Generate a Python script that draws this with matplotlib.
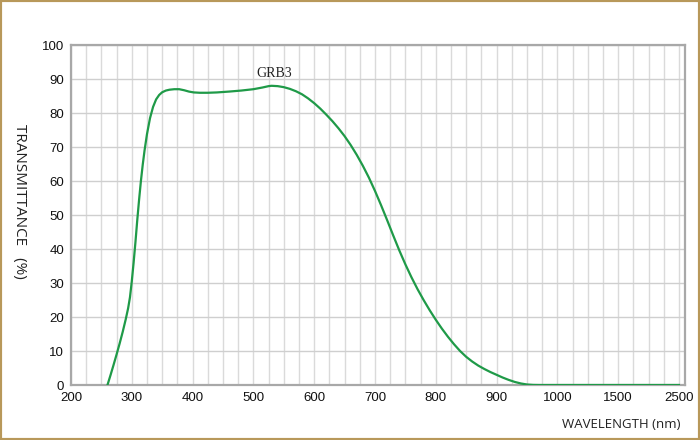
import matplotlib
matplotlib.use("Agg")
import matplotlib.pyplot as plt
from matplotlib.patches import Rectangle
import numpy as np

# Data (wavelength nm, transmittance %)
wavelength = [260, 265, 270, 275, 280, 285, 290, 294, 297, 300, 303, 306, 309, 312,
              315, 318, 321, 325, 330, 335, 340, 345, 350, 356, 362, 370, 378, 386,
              394, 402, 412, 425, 440, 460, 480, 500, 515, 525, 530, 540, 550, 560,
              570, 580, 590, 600, 610, 620, 630, 640, 650, 660, 670, 680, 690, 700,
              710, 720, 730, 740, 750, 760, 770, 780, 790, 800, 810, 820, 830, 840,
              850, 860, 870, 880, 890, 900, 910, 920, 930, 940, 950, 960, 970, 1000,
              1500, 2500]
transmittance = [0, 2.9, 5.9, 9.0, 12.2, 15.6, 19.3, 22.6, 25.8, 30.5, 36, 42, 48.5, 54.5,
                 60, 64.8, 69, 73.8, 78.5, 81.8, 84.0, 85.3, 86.1, 86.6, 86.85, 87.0, 87.0, 86.7,
                 86.3, 86.05, 85.95, 85.95, 86.05, 86.3, 86.6, 87.0, 87.5, 87.9, 88.0, 87.9, 87.6, 87.1,
                 86.4, 85.5, 84.3, 82.9, 81.3, 79.5, 77.6, 75.5, 73.2, 70.6, 67.7, 64.5, 61.0, 57.1,
                 52.9, 48.5, 44.0, 39.6, 35.5, 31.7, 28.2, 25.0, 22.0, 19.2, 16.6, 14.2, 12.0, 10.0,
                 8.3, 6.9, 5.7, 4.7, 3.8, 3.0, 2.2, 1.5, 0.9, 0.45, 0.15, 0.03, 0, 0,
                 0, 0]
x_ticks_nm = [200, 300, 400, 500, 600, 700, 800, 900, 1000, 1500, 2500]
y_ticks = [0, 10, 20, 30, 40, 50, 60, 70, 80, 90, 100]
series_label = "GRB3"

# piecewise axis: linear 200-1000, then compressed segments
def to_u(x):
    x = np.asarray(x, dtype=float)
    return np.interp(x, x_ticks_nm, np.arange(len(x_ticks_nm)))

fig = plt.figure(figsize=(7, 4.4), dpi=100)
ax = fig.add_axes([71/700, 1-385/440, (685-71)/700, (385-45)/440])

ax.set_xlim(0, 10.1)
ax.set_ylim(0, 100)

# grid
for u in np.arange(0, 10.1, 0.25):
    ax.axvline(u, color="#dadada", lw=1.0, zorder=0)
for y in y_ticks:
    ax.axhline(y, color="#cfcfcf", lw=1.0, zorder=0)

ax.plot(to_u(wavelength), transmittance, color="#1f9a48", lw=1.6, zorder=3,
        solid_joinstyle="round")
ax.text(to_u(535), 89.6, series_label, family="Liberation Serif", fontsize=10,
        ha="center", va="bottom", color="#222222")

ax.set_xticks(to_u(x_ticks_nm))
ax.set_xticklabels([str(v) for v in x_ticks_nm])
ax.set_yticks(y_ticks)
ax.set_yticklabels([str(v) for v in y_ticks])
ax.tick_params(length=0, labelsize=9.5, colors="#111111", pad=5)
for lab in ax.get_xticklabels() + ax.get_yticklabels():
    lab.set_family("Liberation Sans")

for s in ax.spines.values():
    s.set_color("#a8a8a8")
    s.set_linewidth(1.6)

fig.text(680/700, 1-424/440, "WAVELENGTH (nm)", ha="right", va="center",
         family="Open Sans", fontsize=9.5, color="#222222")
fig.text(19/700, 1-201/440, "TRANSMITTANCE   (%)", ha="center", va="center",
         rotation=-90, family="Open Sans", fontsize=11, color="#222222")

fig.patches.append(Rectangle((0, 0), 1, 1, transform=fig.transFigure, fill=False,
                             edgecolor="#b8985a", lw=3, zorder=10))

fig.savefig("out.png", dpi=100)
